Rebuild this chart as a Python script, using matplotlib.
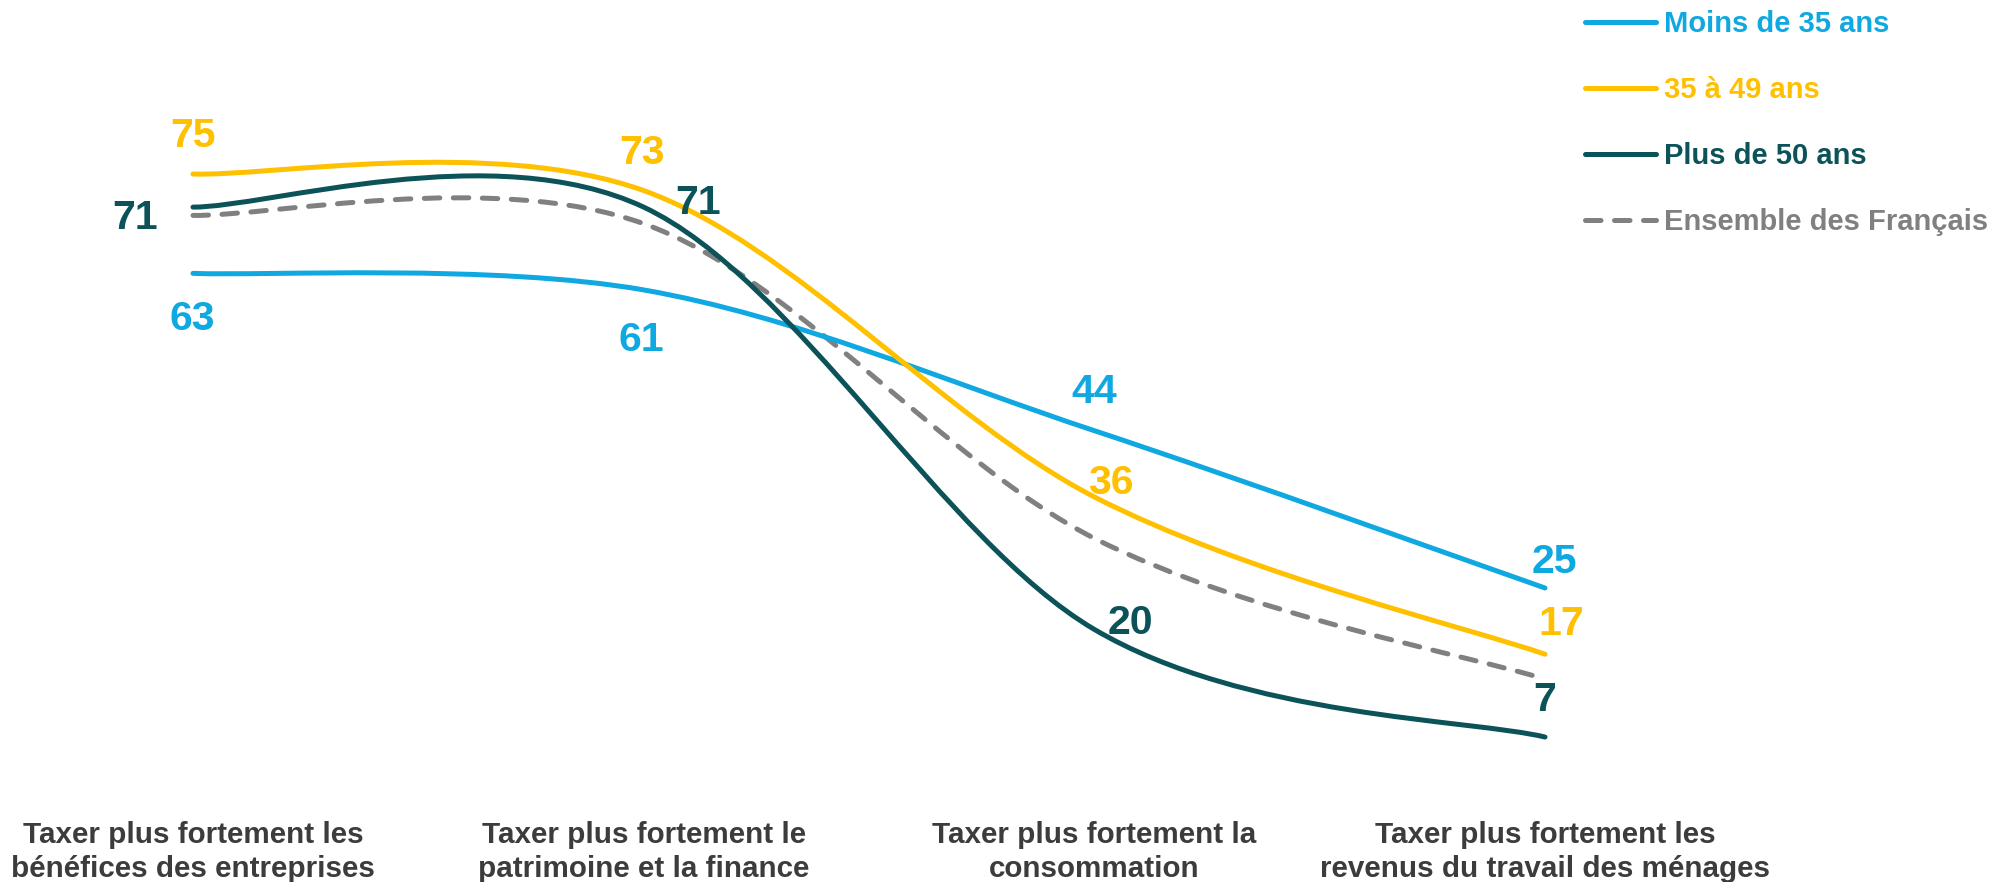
import matplotlib
matplotlib.use("Agg")
import matplotlib.pyplot as plt
from matplotlib.path import Path
from matplotlib.patches import PathPatch
from matplotlib.lines import Line2D
import numpy as np

plt.rcParams['font.family'] = ['Liberation Sans', 'DejaVu Sans']

# ---- data ----
categories = [
    "Taxer plus fortement les\nbénéfices des entreprises",
    "Taxer plus fortement le\npatrimoine et la finance",
    "Taxer plus fortement la\nconsommation",
    "Taxer plus fortement les\nrevenus du travail des ménages",
]
series_names = ["Moins de 35 ans", "35 à 49 ans", "Plus de 50 ans", "Ensemble des Français"]
moins_35 = [63, 61, 44, 25]
de_35_49 = [75, 73, 36, 17]
plus_50 = [71, 71, 20, 7]
ensemble = [70, 69, 31, 14]

# ---- styles ----
colors = ["#0FA8E0", "#FFC000", "#0B5358", "#808080"]
label_color_axis = "#3C3C3C"
LW = 3.6

# label offsets in pixels (dx, dy of label centre relative to point); None = no label
label_offsets = [
    [(-1, -42), (-2, -46), (0, 42), (9, 30)],
    [(0, 42), (-2, 41), (16, 18), (16, 34)],
    [(-58, -7), (54, 8), (36, 10), (0, 41)],
    None,
]

W, H, DPI = 2014, 882, 100
fig = plt.figure(figsize=(W / DPI, H / DPI), dpi=DPI)

# axes geometry: x index 0 -> 193 px, 3 -> 1545 px ; y value 0 -> 795 px from top, 8.28 px/unit
x0_px, x3_px = 193.0, 1545.0
y0_px, px_per_unit = 795.0, 8.28
ppu_x = (x3_px - x0_px) / 3.0
ax_bottom = (H - y0_px) / H
ax = fig.add_axes([0, ax_bottom, 1, 1 - ax_bottom])
ax.set_xlim(-x0_px / ppu_x, (W - x0_px) / ppu_x)
ax.set_ylim(0, y0_px / px_per_unit)


def smooth_path(xs, ys):
    pts = np.column_stack([xs, ys]).astype(float)
    n = len(pts)
    verts = [pts[0]]
    codes = [Path.MOVETO]
    for i in range(n - 1):
        p_prev = pts[max(i - 1, 0)]
        p0 = pts[i]
        p1 = pts[i + 1]
        p_next = pts[min(i + 2, n - 1)]
        c1 = p0 + (p1 - p_prev) / 6.0
        c2 = p1 - (p_next - p0) / 6.0
        verts += [c1, c2, p1]
        codes += [Path.CURVE4] * 3
    return Path(verts, codes)


xs = np.arange(len(categories))
all_series = [moins_35, de_35_49, plus_50, ensemble]
handles = []
for k, (vals, col, name) in enumerate(zip(all_series, colors, series_names)):
    dashed = (k == 3)
    ls = (0, (3.1, 2.7)) if dashed else "-"
    patch = PathPatch(smooth_path(xs, vals), facecolor="none", edgecolor=col,
                      lw=LW, linestyle=ls, capstyle="round", joinstyle="round",
                      zorder=3 if not dashed else 2)
    ax.add_patch(patch)
    handles.append(Line2D([0], [0], color=col, lw=LW, linestyle=ls,
                          solid_capstyle="round", dash_capstyle="round"))
    offs = label_offsets[k]
    if offs is None:
        continue
    for xi, v, (dx, dy) in zip(xs, vals, offs):
        ax.annotate(f"{v}", xy=(xi, v), xytext=(dx, dy - 14.7),
                    textcoords="offset pixels", ha="center", va="baseline",
                    fontsize=29.5, fontweight="bold", color=col, zorder=5)

ax.set_xticks(xs)
ax.set_xticklabels(categories, fontsize=21.3, fontweight="bold",
                   color=label_color_axis, linespacing=1.29)
ax.tick_params(axis="x", length=0, pad=18.5)
ax.set_yticks([])
for s in ax.spines.values():
    s.set_visible(False)
ax.patch.set_alpha(0)

leg = fig.legend(handles, series_names, loc="upper left",
                 bbox_to_anchor=(1585 / W, 1 - 10.5 / H), frameon=False,
                 prop={"size": 21, "weight": "bold"}, handlelength=2.45,
                 handletextpad=0.25, labelspacing=1.3, borderpad=0,
                 borderaxespad=0)
for txt, col in zip(leg.get_texts(), colors):
    txt.set_color(col)

fig.savefig("out.png", dpi=DPI)
